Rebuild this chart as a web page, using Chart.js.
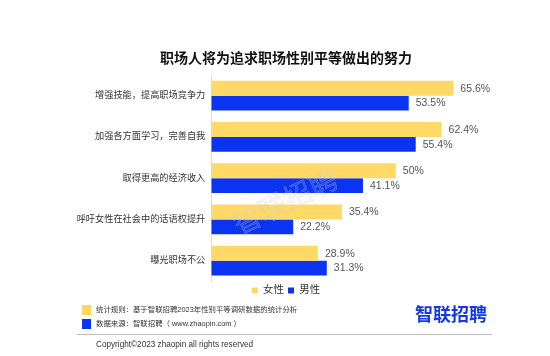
<!DOCTYPE html>
<html>
<head>
<meta charset="utf-8">
<script src="https://cdn.jsdelivr.net/npm/chart.js@4.4.0/dist/chart.umd.min.js"></script>
<style>
  html, body { margin: 0; padding: 0; background: #fff; }
  #wrap { position: relative; width: 550px; height: 356px; overflow: hidden; }
  #wrap canvas { position: absolute; left: 0; top: 0; }
  .ft { position: absolute; white-space: nowrap; color: #333; font-family: 'Liberation Sans', 'Noto Sans CJK SC', sans-serif; }
  .sq { position: absolute; width: 9px; height: 10px; }
</style>
</head>
<body>
<div id="wrap">
  <canvas id="c" width="550" height="356"></canvas>
  <div class="sq" style="left:82px;top:305px;background:#FFD75E;"></div>
  <div class="sq" style="left:82px;top:319px;background:#0A34F2;"></div>
  <div class="ft" style="left:96px;top:305px;font-size:7.4px;line-height:10px;">统计规则：基于智联招聘2023年性别平等调研数据的统计分析</div>
  <div class="ft" style="left:96px;top:319px;font-size:7.4px;line-height:10px;">数据来源：智联招聘（ www.zhaopin.com ）</div>
  <div class="ft" style="left:415px;top:302px;font-size:18px;line-height:22px;font-weight:bold;color:#1537E6;font-family:'Noto Sans CJK SC',sans-serif;">智联招聘</div>
  <div style="position:absolute;left:77px;top:334px;width:415px;height:1px;background:#bdbdbd;"></div>
  <div class="ft" style="left:96px;top:340px;font-size:8.2px;line-height:10px;">Copyright©2023 zhaopin all rights reserved</div>
</div>
<script>
const categories = ['增强技能，提高职场竞争力', '加强各方面学习，完善自我', '取得更高的经济收入', '呼吁女性在社会中的话语权提升', '曝光职场不公'];
const seriesNames = ['女性', '男性'];
const femaleValues = [65.6, 62.4, 50, 35.4, 28.9];
const maleValues = [53.5, 55.4, 41.1, 22.2, 31.3];
const titleText = '职场人将为追求职场性别平等做出的努力';
const watermarkText = '智联招聘';

const YELLOW = '#FFD966';
const BLUE = '#0A34F2';
const FONT = "'Liberation Sans', 'Noto Sans CJK SC', sans-serif";

const valueLabels = {
  id: 'valueLabels',
  afterDatasetsDraw(chart) {
    const ctx = chart.ctx;
    ctx.save();
    ctx.font = '10.5px ' + FONT;
    ctx.fillStyle = '#555';
    ctx.textAlign = 'left';
    ctx.textBaseline = 'middle';
    chart.data.datasets.forEach((ds, di) => {
      const meta = chart.getDatasetMeta(di);
      meta.data.forEach((bar, i) => {
        ctx.fillText(ds.data[i] + '%', bar.x + 7, bar.y + 0.5);
      });
    });
    ctx.restore();
  }
};

const watermark = {
  id: 'watermark',
  afterDatasetsDraw(chart) {
    const ctx = chart.ctx;
    ctx.save();
    ctx.translate(285, 201);
    ctx.rotate(-26 * Math.PI / 180);
    ctx.font = "28px 'Noto Sans CJK SC', sans-serif";
    ctx.textAlign = 'center';
    ctx.textBaseline = 'middle';
    ctx.fillStyle = 'rgba(215,215,215,0.18)';
    ctx.strokeStyle = 'rgba(200,200,200,0.25)';
    ctx.lineWidth = 0.8;
    ctx.fillText(watermarkText, 0, 0);
    ctx.strokeText(watermarkText, 0, 0);
    ctx.restore();
  }
};

new Chart(document.getElementById('c'), {
  type: 'bar',
  data: {
    labels: categories,
    datasets: [
      { label: seriesNames[0], data: femaleValues, backgroundColor: YELLOW, borderWidth: 0, categoryPercentage: 0.72, barPercentage: 1.0 },
      { label: seriesNames[1], data: maleValues, backgroundColor: BLUE, borderWidth: 0, categoryPercentage: 0.72, barPercentage: 1.0 }
    ]
  },
  options: {
    indexAxis: 'y',
    responsive: false,
    animation: false,
    layout: { padding: { left: 65.5, right: 43.5, top: 0, bottom: 50.2 } },
    scales: {
      x: { display: false, min: 0, max: 80 },
      y: {
        grid: { display: false, drawTicks: false },
        border: { display: true, color: '#dcdcdc', width: 1 },
        ticks: { padding: 6, color: '#333', font: { size: 9.2, family: FONT } },
        afterFit(scale) { scale.width = 145.8; }
      }
    },
    plugins: {
      title: {
        display: true,
        text: titleText,
        color: '#111',
        font: { size: 14, weight: 'bold', family: "'Noto Sans CJK SC', sans-serif", lineHeight: 1.2 },
        padding: { top: 49.6, bottom: 8.6 }
      },
      legend: {
        display: true,
        position: 'bottom',
        labels: {
          boxWidth: 6,
          boxHeight: 6,
          padding: 4,
          color: '#333',
          font: { size: 10.5, family: FONT }
        }
      },
      tooltip: { enabled: false }
    }
  },
  plugins: [valueLabels, watermark]
});
</script>
</body>
</html>
